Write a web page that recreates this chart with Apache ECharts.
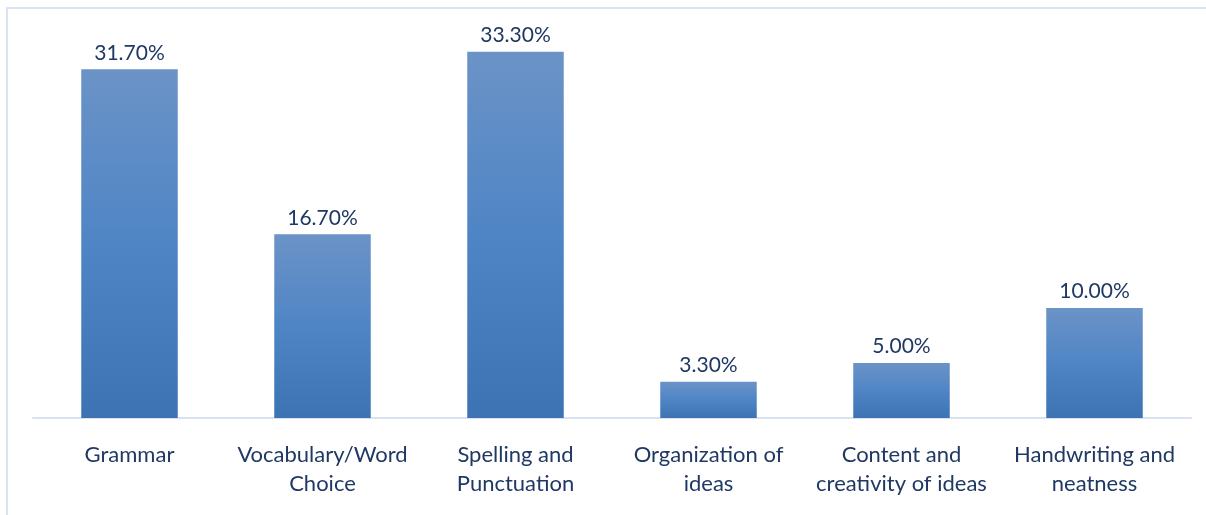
<!DOCTYPE html>
<html>
<head>
<meta charset="utf-8">
<script src="https://cdn.jsdelivr.net/npm/echarts@6/dist/echarts.min.js"></script>
<style>
html,body{margin:0;padding:0;background:#fff;}
#frame{position:absolute;left:6px;top:7px;width:1210px;height:520px;border:2px solid #dae3f3;box-sizing:border-box;}
#c{position:absolute;left:0;top:0;width:1206px;height:515px;}
</style>
</head>
<body>
<div id="frame"></div>
<div id="c"></div>
<script>
const categories = ["Grammar", "Vocabulary/Word\nChoice", "Spelling and\nPunctuation", "Organization of\nideas", "Content and\ncreativity of ideas", "Handwriting and\nneatness"];
const values = [31.7, 16.7, 33.3, 3.3, 5.0, 10.0];

const chart = echarts.init(document.getElementById('c'), null, {renderer: 'canvas'});
const textColor = '#1f3864';
chart.setOption({
  animation: false,
  grid: {left: 33, right: 15, top: 22, bottom: 97, containLabel: false},
  xAxis: {
    type: 'category',
    data: categories,
    axisLine: {show: true, lineStyle: {color: '#d9e2f1', width: 2}},
    axisTick: {show: false},
    axisLabel: {color: textColor, fontFamily: 'Lato', fontSize: 22, lineHeight: 29, margin: 22, interval: 0}
  },
  yAxis: {
    type: 'value', min: 0, max: 36,
    show: false,
    splitLine: {show: false}
  },
  series: [{
    type: 'bar',
    data: values,
    barWidth: '50%',
    itemStyle: {
      color: new echarts.graphic.LinearGradient(0, 0, 0, 1, [
        {offset: 0, color: '#6b93c7'},
        {offset: 0.5, color: '#4f85c5'},
        {offset: 1, color: '#3d72b3'}
      ])
    },
    label: {
      show: true, position: 'top', distance: 6,
      color: textColor, fontFamily: 'Lato', fontSize: 21,
      formatter: p => p.value.toFixed(2) + '%'
    }
  }]
});
</script>
</body>
</html>
